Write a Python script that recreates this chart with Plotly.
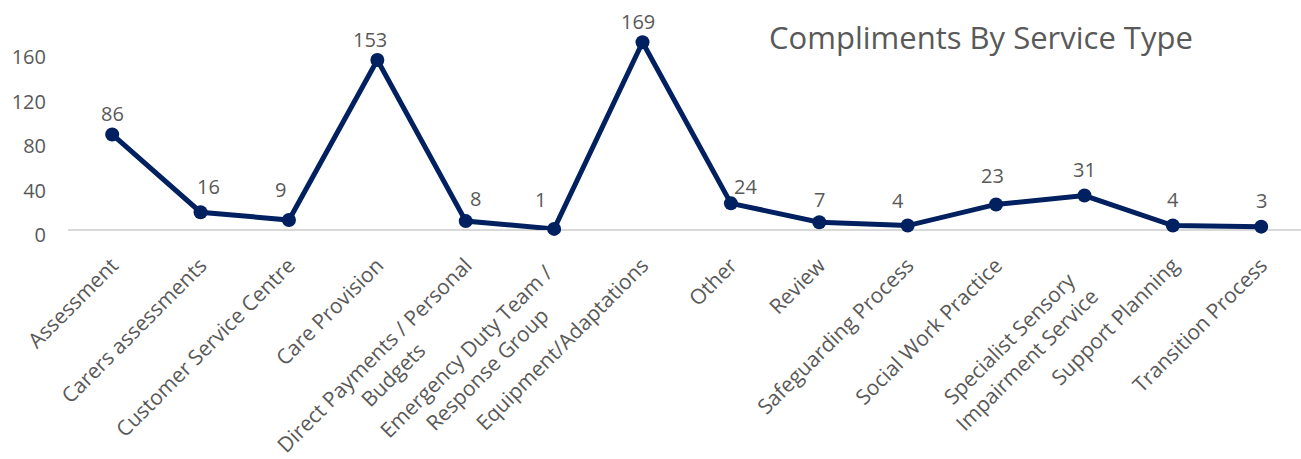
import plotly.graph_objects as go

NB = "\u00a0"
categories = ["Assessment", "Carers assessments", "Customer Service Centre", "Care Provision",
              "Direct Payments / Personal<br>Budgets" + NB * 17,
              "Emergency Duty Team /" + NB * 2 + "<br>Response Group" + NB * 8,
              "Equipment/Adaptations", "Other", "Review", "Safeguarding Process",
              "Social Work Practice",
              "Specialist Sensory" + NB * 4 + "<br>Impairment Service" + NB * 3,
              "Support Planning", "Transition Process"]
values = [86, 16, 9, 153, 8, 1, 169, 24, 7, 4, 23, 31, 4, 3]
y_ticks = [0, 40, 80, 120, 160]

# pixel offsets of the data labels from their points (style only)
label_dx = [0, 8, -8, -7, 10, -14, -5, 15, 0, -10, -4, 0, 0, 0]
label_dy = [21, 26, 31, 21, 23, 29, 21, 17, 23, 25, 29, 26, 26, 26]

FONT = "Open Sans"
GRAY = "#595959"
NAVY = "#002060"

x_idx = list(range(len(categories)))

fig = go.Figure()
fig.add_trace(go.Scatter(
    x=x_idx, y=values, mode="lines+markers",
    line=dict(color=NAVY, width=5),
    marker=dict(color=NAVY, size=14),
    cliponaxis=False, showlegend=False, hoverinfo="skip",
))

for i, v in enumerate(values):
    fig.add_annotation(x=i, y=v, xref="x", yref="y", text=str(v), showarrow=False,
                       xanchor="center", yanchor="middle",
                       xshift=label_dx[i], yshift=label_dy[i],
                       font=dict(family=FONT, size=20, color=GRAY))

fig.update_layout(
    width=1301, height=459,
    margin=dict(l=68, r=0, t=10, b=228.5, autoexpand=False),
    paper_bgcolor="white", plot_bgcolor="white",
    title=dict(text="Compliments By Service Type", xref="container", yref="container",
               x=0.754, y=1 - 38 / 459, xanchor="center", yanchor="middle",
               font=dict(family=FONT, size=31, color=GRAY), automargin=False),
    xaxis=dict(range=[-0.5, 13.45], tickmode="array", tickvals=x_idx, ticktext=categories,
               tickangle=-45, showgrid=False, zeroline=False, showline=False, ticks="",
               automargin=False,
               tickfont=dict(family=FONT, size=21, color=GRAY), ticklabelstandoff=18),
    yaxis=dict(range=[0, 198], tickmode="array", tickvals=y_ticks, showgrid=False,
               zeroline=True, zerolinecolor="#d9d9d9", zerolinewidth=2, showline=False,
               ticks="", automargin=False, tickfont=dict(family=FONT, size=20, color=GRAY),
               ticklabelstandoff=21, ticklabelshift=5),
)

fig.write_html("out.html")
